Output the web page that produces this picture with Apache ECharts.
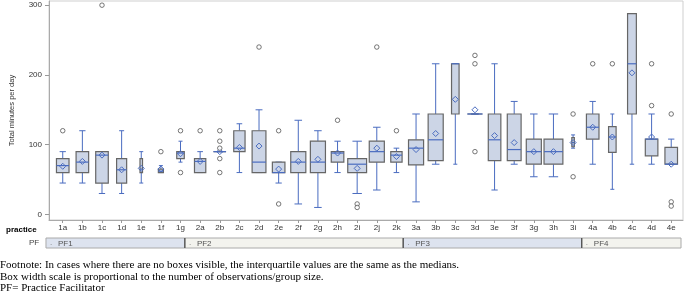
<!DOCTYPE html>
<html>
<head>
<meta charset="utf-8">
<script src="https://cdn.jsdelivr.net/npm/echarts@6/dist/echarts.min.js"></script>
<style>
html,body{margin:0;padding:0;background:#fff;}
#chart{width:685px;height:293px;}
</style>
</head>
<body>
<div id="chart"></div>
<script>
// ---- data ----
const categories = ['1a','1b','1c','1d','1e','1f','1g','2a','2b','2c','2d','2e','2f','2g','2h','2i','2j','2k','3a','3b','3c','3d','3e','3f','3g','3h','3i','4a','4b','4c','4d','4e'];
const whiskerLow  = [45,45,30,30,45,60,75,60,90,60,60,45,15,10,60,30,35,60,18,72,72,144,35,72,54,54,95,72,36,72,72,72];
const q1          = [60,60,45,45,60,60,80,60,90,90,60,60,60,60,75,60,75,75,71,77,144,144,77,77,72,72,97,108,89,144,84,72];
const median      = [70,75,85,64,65,62,88,76,90,95,75,60,75,75,88,72,90,85,95,107,216,144,107,93,90,90,103,125,111,216,108,72];
const q3          = [80,90,90,80,80,65,90,80,90,120,120,75,90,105,90,80,105,90,107,144,216,144,144,144,108,108,110,144,126,288,108,96];
const whiskerHigh = [90,120,90,120,90,70,105,90,90,130,150,75,135,120,105,105,125,95,144,216,216,144,216,162,144,144,114,162,144,288,144,108];
const means       = [69,76,85,64,66,65,87,76,90,96,98,65,76,79,88,66,95,83,93,116,165,150,113,103,90,90,103,125,111,203,111,72];
const groupSize   = [10,10,10,8,2,4,6,9,10,9,11,10,12,12,10,15,12,9,12,12,6,12,10,11,12,15,2,10,6,7,10,10];
const outliers = [
  ['1a',120],['1c',300],['1f',90],['1g',120],['1g',60],['2a',120],
  ['2b',120],['2b',105],['2b',95],['2b',80],['2b',60],['2d',240],
  ['2e',120],['2e',15],['2h',135],['2i',15],['2i',10],['2j',240],
  ['2k',120],['3d',228],['3d',216],['3d',90],['3i',144],['3i',54],
  ['4a',216],['4b',216],['4d',216],['4d',156],['4e',144],['4e',18],['4e',12]
];
const yTicks = [0,100,200,300];
const pfLabels = ['PF1','PF2','PF3','PF4'];
const pfFirst  = ['1a','2a','3a','4a'];
const pfLast   = ['1g','2k','3i','4e'];
const footnotes = [
  'Footnote: In cases where there are no boxes visible, the interquartile values are the same as the medians.',
  'Box width scale is proportional to the number of observations/group size.',
  'PF= Practice Facilitator'
];

// ---- styles ----
const X_MIN = -0.7, X_MAX = 31.6;
const BLUE = '#4a6cc0';
const BOX_FILL = '#ccd5e6';
const BOX_EDGE = '#666';
const WIDTH_PER_OBS = 0.064;

const boxData = categories.map((c, i) => [i, whiskerLow[i], q1[i], median[i], q3[i], whiskerHigh[i], means[i], groupSize[i]]);
const outlierData = outliers.map(o => [categories.indexOf(o[0]), o[1]]);
const pfData = pfLabels.map((l, i) => [
  Math.max(X_MIN, categories.indexOf(pfFirst[i]) - 0.5),
  Math.min(X_MAX, categories.indexOf(pfLast[i]) + 0.5),
  i
]);

function renderBox(params, api) {
  const x = api.value(0);
  const band = api.size([1, 0])[0];
  const w = Math.max(2, api.value(7) * WIDTH_PER_OBS * band);
  const cap = Math.max(4, w * 0.5);
  const cx = api.coord([x, 0])[0];
  const y = v => api.coord([x, v])[1];
  const yLo = y(api.value(1)), yQ1 = y(api.value(2)), yMed = y(api.value(3)),
        yQ3 = y(api.value(4)), yHi = y(api.value(5)), yMean = y(api.value(6));
  const lineStyle = { stroke: BLUE, lineWidth: 1 };
  const ch = [];
  ch.push({ type: 'line', shape: { x1: cx, y1: yQ3, x2: cx, y2: yHi }, style: lineStyle });
  ch.push({ type: 'line', shape: { x1: cx, y1: yQ1, x2: cx, y2: yLo }, style: lineStyle });
  ch.push({ type: 'line', shape: { x1: cx - cap / 2, y1: yHi, x2: cx + cap / 2, y2: yHi }, style: lineStyle });
  ch.push({ type: 'line', shape: { x1: cx - cap / 2, y1: yLo, x2: cx + cap / 2, y2: yLo }, style: lineStyle });
  ch.push({ type: 'rect', shape: { x: cx - w / 2, y: yQ3, width: w, height: Math.max(0, yQ1 - yQ3) },
            style: { fill: BOX_FILL, stroke: BOX_EDGE, lineWidth: 1.2 } });
  ch.push({ type: 'line', shape: { x1: cx - w / 2, y1: yMed, x2: cx + w / 2, y2: yMed }, style: { stroke: BLUE, lineWidth: 1.2 } });
  const d = 3;
  ch.push({ type: 'polygon', shape: { points: [[cx, yMean - d], [cx + d, yMean], [cx, yMean + d], [cx - d, yMean]] },
            style: { fill: 'rgba(0,0,0,0)', stroke: BLUE, lineWidth: 1 } });
  return { type: 'group', children: ch };
}

function renderPF(params, api) {
  const s = api.value(0), e = api.value(1), i = api.value(2);
  const p0 = api.coord([s, 1]);
  const p1 = api.coord([e, 0]);
  const ch = [];
  ch.push({ type: 'rect', shape: { x: p0[0], y: p0[1], width: p1[0] - p0[0], height: p1[1] - p0[1] },
            style: { fill: i % 2 === 0 ? '#dde3ef' : '#f3f3ee', stroke: '#aaa', lineWidth: 1 } });
  if (i > 0) {
    ch.push({ type: 'line', shape: { x1: p0[0], y1: p0[1], x2: p0[0], y2: p1[1] }, style: { stroke: '#333', lineWidth: 1 } });
  }
  ch.push({ type: 'text', x: p0[0] + 4, y: (p0[1] + p1[1]) / 2,
            style: { text: '.', fill: '#777', font: '8px sans-serif', verticalAlign: 'middle' } });
  ch.push({ type: 'text', x: p0[0] + 12, y: (p0[1] + p1[1]) / 2 + 0.5,
            style: { text: pfLabels[i], fill: '#555', font: '8px "Liberation Sans", Arial, sans-serif', verticalAlign: 'middle' } });
  return { type: 'group', children: ch };
}

const FOOT_FONT = '11px "Liberation Serif", "Times New Roman", serif';

const chart = echarts.init(document.getElementById('chart'), null, { renderer: 'canvas' });
chart.setOption({
  animation: false,
  backgroundColor: '#fff',
  textStyle: { fontFamily: '"Liberation Sans", Arial, sans-serif' },
  grid: [
    { left: 42, right: 2, top: 1, bottom: 73, show: true, borderColor: '#cfcfcf', borderWidth: 1 },
    { left: 42, right: 2, top: 238, height: 10 }
  ],
  xAxis: [
    {
      type: 'value', gridIndex: 0, min: X_MIN, max: X_MAX,
      splitLine: { show: false },
      axisLine: { show: true, onZero: false, lineStyle: { color: '#aaa' } },
      axisTick: { show: true, customValues: categories.map((c, i) => i), length: 3, lineStyle: { color: '#999' } },
      axisLabel: { customValues: categories.map((c, i) => i), formatter: v => categories[v], fontSize: 8, color: '#333', margin: 4 }
    },
    { type: 'value', gridIndex: 1, min: X_MIN, max: X_MAX, show: false }
  ],
  yAxis: [
    {
      type: 'value', gridIndex: 0, min: -8, max: 306,
      name: 'Total minutes per day', nameLocation: 'middle', nameGap: 33,
      nameTextStyle: { fontSize: 7.5, color: '#333' },
      splitLine: { show: false },
      axisLine: { show: true, onZero: false, lineStyle: { color: '#aaa' } },
      axisTick: { show: true, customValues: yTicks, length: 4, lineStyle: { color: '#999' } },
      axisLabel: { customValues: yTicks, fontSize: 8, color: '#333', margin: 7 }
    },
    { type: 'value', gridIndex: 1, min: 0, max: 1, show: false }
  ],
  graphic: [
    { type: 'text', left: 6, top: 226, style: { text: 'practice', font: 'bold 8px "Liberation Sans", Arial, sans-serif', fill: '#000' } },
    { type: 'text', left: 29, top: 239, style: { text: 'PF', font: '8px "Liberation Sans", Arial, sans-serif', fill: '#444' } },
    { type: 'text', left: 0, top: 260, style: { text: footnotes[0], font: FOOT_FONT, fill: '#000' } },
    { type: 'text', left: 0, top: 271.5, style: { text: footnotes[1], font: FOOT_FONT, fill: '#000' } },
    { type: 'text', left: 0, top: 283, style: { text: footnotes[2], font: FOOT_FONT, fill: '#000' } }
  ],
  series: [
    {
      type: 'custom', xAxisIndex: 0, yAxisIndex: 0, renderItem: renderBox,
      data: boxData, encode: { x: 0, y: [1, 2, 3, 4, 5, 6] }, z: 2
    },
    {
      type: 'scatter', xAxisIndex: 0, yAxisIndex: 0, data: outlierData,
      symbol: 'circle', symbolSize: 4.5,
      itemStyle: { color: '#fff', borderColor: '#555', borderWidth: 1 }, z: 3
    },
    {
      type: 'custom', xAxisIndex: 1, yAxisIndex: 1, renderItem: renderPF,
      data: pfData, encode: { x: [0, 1] }, clip: false
    }
  ]
});
</script>
</body>
</html>
